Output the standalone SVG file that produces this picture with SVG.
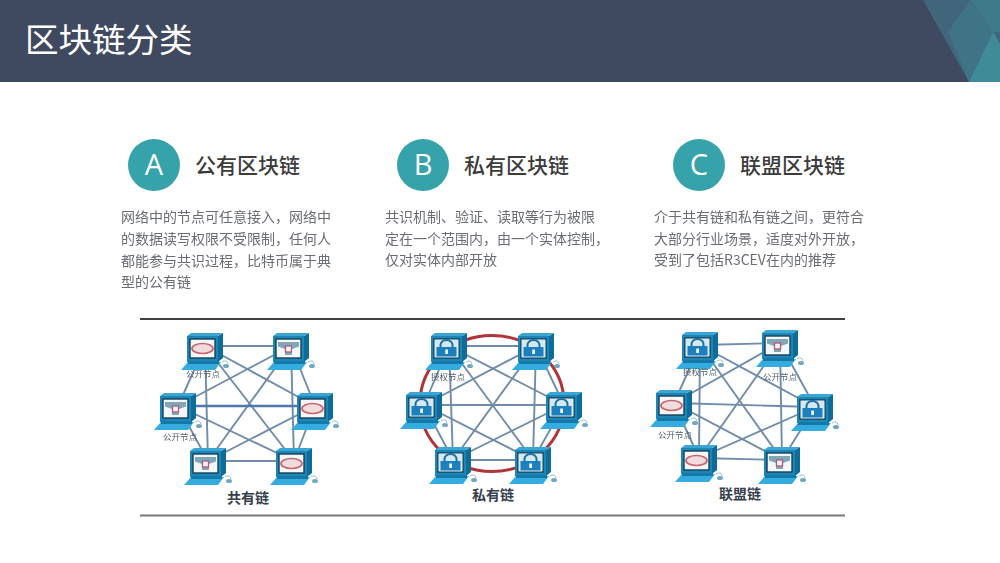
<svg xmlns="http://www.w3.org/2000/svg" width="1000" height="563" viewBox="0 0 1000 563">
<style>
text{font-family:"Noto Sans CJK SC","Noto Sans",sans-serif}
.title{font-size:33.5px;fill:#fff;font-weight:400}
.badge{fill:#35a3a9}
.letter{font-family:"Open Sans","Lato",sans-serif;font-size:29px;font-weight:400;fill:#fff;text-anchor:middle}
.head{font-size:21px;font-weight:500;fill:#3c3c3c}
.body{font-size:14px;fill:#6a6d72;filter:url(#fine)}
.small{font-size:8.5px;fill:#55606b}
.cap{font-size:14px;font-weight:700;fill:#36404c;text-anchor:middle}
.link{stroke:#6f8cab;stroke-width:1.9;fill:none}
.strong{stroke:#4f78ab;stroke-width:2.4}
.rule{stroke-width:1.5;fill:none}
.dash{stroke:#7d93aa;stroke-width:1.8;stroke-dasharray:7 5;fill:none;filter:url(#fine)}
.soft{filter:url(#soft)}
</style>
<defs>
<filter id="soft" x="-10%" y="-10%" width="120%" height="120%"><feGaussianBlur stdDeviation="0.45"/></filter>
<filter id="fine" x="-5%" y="-20%" width="110%" height="140%"><feGaussianBlur stdDeviation="0.2"/></filter>
<g id="pc">
<polygon points="31,3 36,0 36,25 31,29" fill="#0f6c99"/>
<polygon points="0,3 4,0 36,0 31,3" fill="#3aa6d3"/>
<rect x="0" y="3" width="31" height="26" fill="#1e86b6"/>
<rect x="3" y="6" width="25" height="19" fill="#f3f7f8" stroke="#173f58" stroke-width="1.4"/>
<polygon points="-6,37 1,29 34,29 28,37" fill="#34ace0"/>
<rect x="1" y="28" width="31" height="3" fill="#1478a8"/>
<ellipse cx="39" cy="33" rx="3" ry="2" fill="#6fa9bf"/>
<path d="M35,29 Q40,26 41,31" stroke="#8fbacb" stroke-width="0.9" fill="none"/>
</g>
<g id="ring"><use href="#pc"/><ellipse cx="15.5" cy="15.5" rx="10.5" ry="5" fill="#efdcdc" stroke="#c9646e" stroke-width="1.7"/></g>
<g id="net"><use href="#pc"/><polygon points="5,9 26,9 26,13.5 19,16 19,22 12,22 12,16 5,13.5" fill="#7fa7b5"/><rect x="12.5" y="13" width="6" height="6" fill="#f5f5f5" stroke="#b4597c" stroke-width="1.3"/></g>
<g id="lock"><use href="#pc"/><rect x="3.7" y="6.7" width="23.6" height="17.6" fill="#d3eaf4"/><path d="M9.5,14 V12 a6,5 0 0 1 12,0 V14" fill="none" stroke="#1d6f9f" stroke-width="2"/><rect x="5.5" y="14" width="20" height="9.5" fill="#1b7fbe"/><rect x="14.3" y="16.5" width="2.6" height="4.5" fill="#fff"/></g>
</defs>

<rect width="1000" height="563" fill="#fff"/>
<g id="header">
<rect width="1000" height="82" fill="#3f4a60"/>
<polygon points="923,0 1000,0 1000,82 969,82" fill="#41667c"/>
<polygon points="970,0 1000,0 1000,32 993,32" fill="#3e7a88"/>
<polygon points="948,32 970,0 993,32 969,82" fill="#3f7486"/>
<polygon points="969,82 993,32 1000,44 1000,82" fill="#3f8b98"/>
<text class="title" x="25" y="52">区块链分类</text>
</g>

<g id="card-a">
<circle class="badge" cx="154" cy="165" r="26"/><text class="letter" x="154" y="175">A</text>
<text class="head" x="195" y="173">公有区块链</text>
<text class="body" x="121" y="222">网络中的节点可任意接入，网络中</text>
<text class="body" x="121" y="244">的数据读写权限不受限制，任何人</text>
<text class="body" x="121" y="266">都能参与共识过程，比特币属于典</text>
<text class="body" x="121" y="287">型的公有链</text>
</g>
<g id="card-b">
<circle class="badge" cx="423" cy="165" r="26"/><text class="letter" x="423" y="175">B</text>
<text class="head" x="464" y="173">私有区块链</text>
<text class="body" x="385" y="222">共识机制、验证、读取等行为被限</text>
<text class="body" x="385" y="244">定在一个范围内，由一个实体控制，</text>
<text class="body" x="385" y="265">仅对实体内部开放</text>
</g>
<g id="card-c">
<circle class="badge" cx="699" cy="165" r="26"/><text class="letter" x="699" y="175">C</text>
<text class="head" x="740" y="173">联盟区块链</text>
<text class="body" x="654" y="222">介于共有链和私有链之间，更符合</text>
<text class="body" x="654" y="244">大部分行业场景，适度对外开放，</text>
<text class="body" x="654" y="265">受到了包括R3CEV在内的推荐</text>
</g>

<g id="frame">
<line class="rule" x1="140" y1="319" x2="845" y2="319" stroke="#000"/>
<line class="rule" x1="140" y1="515.5" x2="845" y2="515.5" stroke="#77797c" style="stroke-width:2"/>
<line class="dash" x1="368" y1="320" x2="368" y2="512"/>
<line class="dash" x1="627" y1="322" x2="627" y2="510"/>
</g>

<ellipse id="private-ring" cx="492" cy="403.5" rx="72" ry="68" fill="none" stroke="#b0353a" stroke-width="3"/>

<g id="connectors" class="soft">
<line class="link" x1="205" y1="346" x2="291" y2="346"/><line class="link" x1="205" y1="346" x2="178" y2="406"/><line class="link" x1="205" y1="346" x2="315" y2="406"/><line class="link" x1="205" y1="346" x2="208" y2="461"/><line class="link" x1="205" y1="346" x2="294" y2="461"/>
<line class="link" x1="291" y1="346" x2="178" y2="406"/><line class="link" x1="291" y1="346" x2="315" y2="406"/><line class="link" x1="291" y1="346" x2="208" y2="461"/><line class="link" x1="291" y1="346" x2="294" y2="461"/>
<line class="link strong" x1="178" y1="406" x2="315" y2="406"/><line class="link" x1="178" y1="406" x2="208" y2="461"/><line class="link" x1="178" y1="406" x2="294" y2="461"/>
<line class="link" x1="315" y1="406" x2="208" y2="461"/><line class="link" x1="315" y1="406" x2="294" y2="461"/><line class="link" x1="208" y1="461" x2="294" y2="461"/>

<line class="link" x1="449" y1="346" x2="536" y2="346"/><line class="link" x1="449" y1="346" x2="424" y2="405"/><line class="link" x1="449" y1="346" x2="564" y2="405"/><line class="link" x1="449" y1="346" x2="453" y2="460"/><line class="link" x1="449" y1="346" x2="533" y2="460"/>
<line class="link" x1="536" y1="346" x2="424" y2="405"/><line class="link" x1="536" y1="346" x2="564" y2="405"/><line class="link" x1="536" y1="346" x2="453" y2="460"/><line class="link" x1="536" y1="346" x2="533" y2="460"/>
<line class="link" x1="424" y1="405" x2="564" y2="405"/><line class="link" x1="424" y1="405" x2="453" y2="460"/><line class="link" x1="424" y1="405" x2="533" y2="460"/>
<line class="link" x1="564" y1="405" x2="453" y2="460"/><line class="link" x1="564" y1="405" x2="533" y2="460"/><line class="link" x1="453" y1="460" x2="533" y2="460"/>

<line class="link" x1="700" y1="345" x2="780" y2="343"/><line class="link" x1="700" y1="345" x2="674" y2="403"/><line class="link" x1="700" y1="345" x2="815" y2="407"/><line class="link" x1="700" y1="345" x2="699" y2="458"/><line class="link" x1="700" y1="345" x2="782" y2="460"/>
<line class="link" x1="780" y1="343" x2="674" y2="403"/><line class="link" x1="780" y1="343" x2="815" y2="407"/><line class="link" x1="780" y1="343" x2="699" y2="458"/><line class="link" x1="780" y1="343" x2="782" y2="460"/>
<line class="link" x1="674" y1="403" x2="815" y2="407"/><line class="link" x1="674" y1="403" x2="699" y2="458"/><line class="link" x1="674" y1="403" x2="782" y2="460"/>
<line class="link" x1="815" y1="407" x2="699" y2="458"/><line class="link" x1="815" y1="407" x2="782" y2="460"/><line class="link" x1="699" y1="458" x2="782" y2="460"/>
</g>

<g id="public-1" class="soft"><use href="#ring" x="187" y="333"/><text class="small" x="186" y="377">公开节点</text></g>
<g id="public-2" class="soft"><use href="#net" x="273" y="333"/></g>
<g id="public-3" class="soft"><use href="#net" x="160" y="393"/><text class="small" x="163" y="440">公开节点</text></g>
<g id="public-4" class="soft"><use href="#ring" x="297" y="393"/></g>
<g id="public-5" class="soft"><use href="#net" x="190" y="448"/></g>
<g id="public-6" class="soft"><use href="#ring" x="276" y="448"/></g>

<g id="private-1" class="soft"><use href="#lock" x="431" y="333"/><text class="small" x="431" y="380">授权节点</text></g>
<g id="private-2" class="soft"><use href="#lock" x="518" y="333"/></g>
<g id="private-3" class="soft"><use href="#lock" x="406" y="392"/></g>
<g id="private-4" class="soft"><use href="#lock" x="546" y="392"/></g>
<g id="private-5" class="soft"><use href="#lock" x="435" y="447"/></g>
<g id="private-6" class="soft"><use href="#lock" x="515" y="447"/></g>

<g id="consortium-1" class="soft"><use href="#lock" x="682" y="332"/><text class="small" x="683" y="375">授权节点</text></g>
<g id="consortium-2" class="soft"><use href="#net" x="762" y="330"/><text class="small" x="763" y="380">公开节点</text></g>
<g id="consortium-3" class="soft"><use href="#ring" x="656" y="390"/><text class="small" x="658" y="438">公开节点</text></g>
<g id="consortium-4" class="soft"><use href="#lock" x="797" y="394"/></g>
<g id="consortium-5" class="soft"><use href="#ring" x="681" y="445"/></g>
<g id="consortium-6" class="soft"><use href="#net" x="764" y="447"/></g>

<g id="captions">
<text class="cap" x="248" y="503">共有链</text>
<text class="cap" x="493" y="500">私有链</text>
<text class="cap" x="740" y="499">联盟链</text>
</g>
</svg>
